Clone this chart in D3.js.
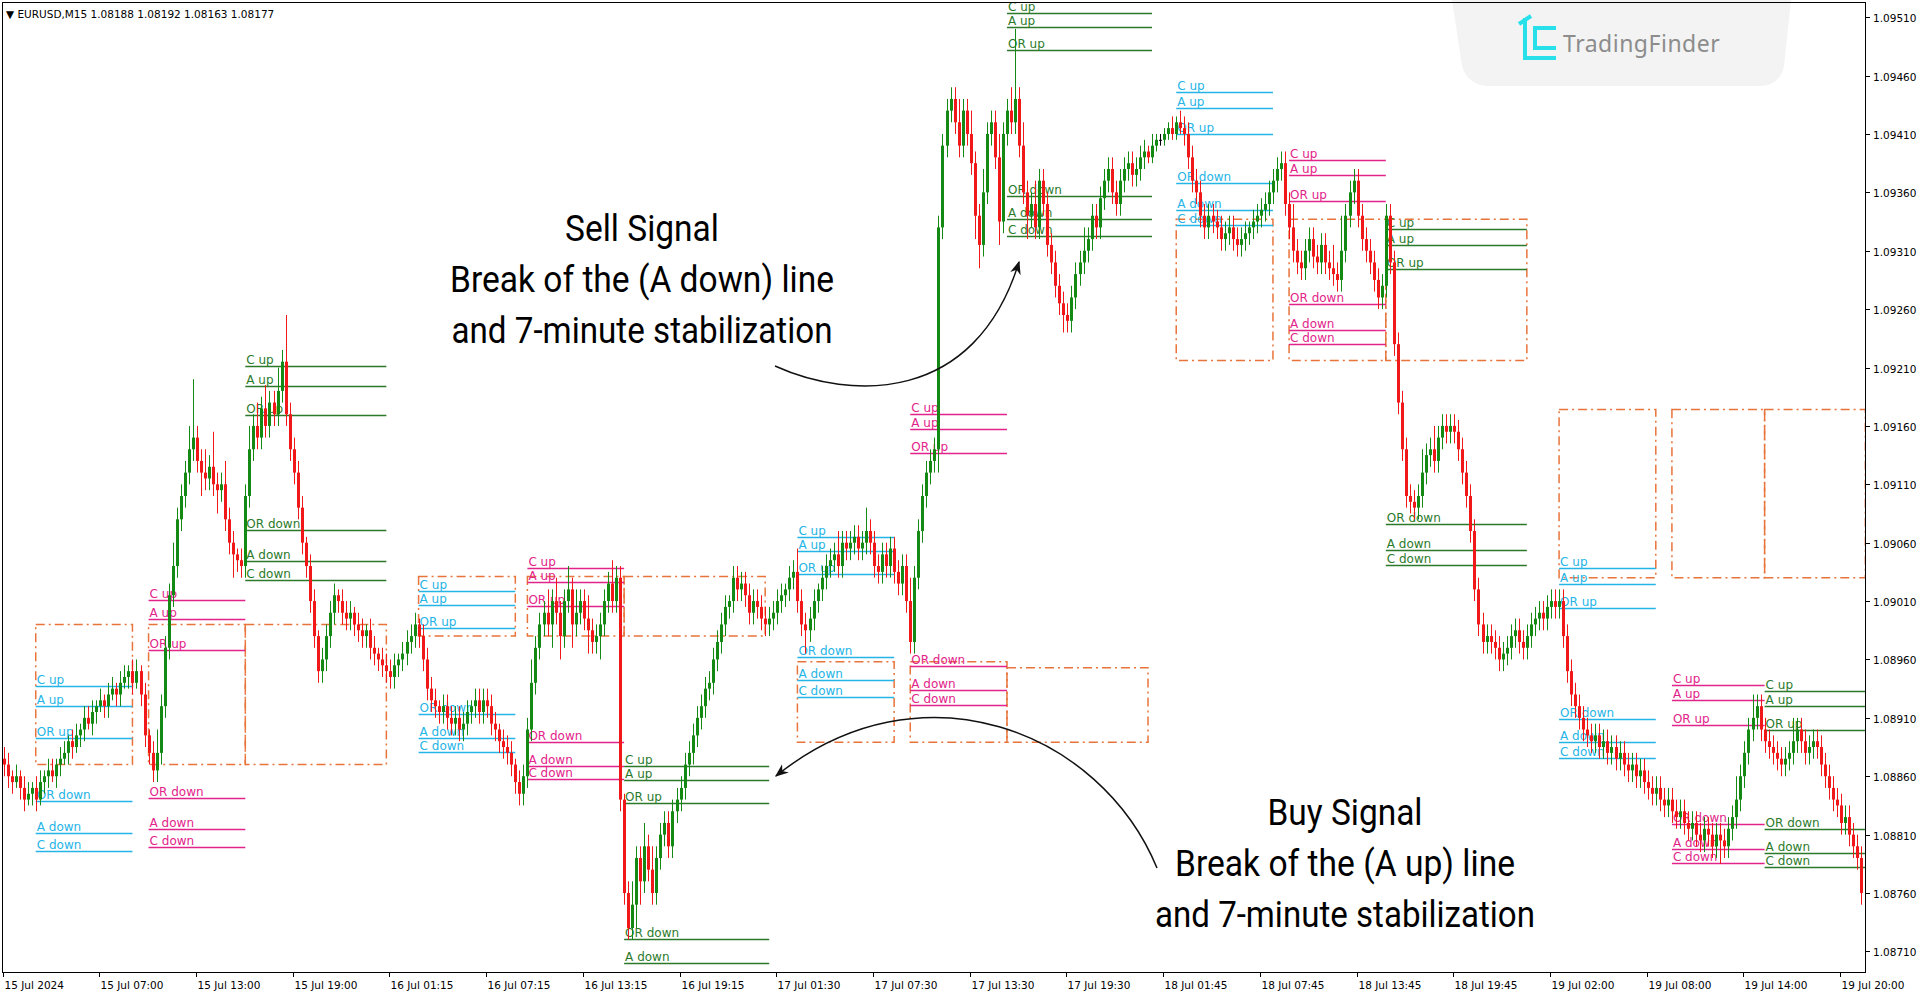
<!DOCTYPE html>
<html>
<head>
<meta charset="utf-8">
<title>EURUSD M15</title>
<style>
  body { margin: 0; background: #fff; }
  svg { display: block; }
  .lvl-text { font-family: "DejaVu Sans", Verdana, sans-serif; font-size: 12px; }
  .axis-text { font-family: "DejaVu Sans", Verdana, sans-serif; font-size: 10.5px; fill: #000; }
  .note { font-family: Roboto, "Noto Sans", sans-serif; font-size: 37px; fill: #000; text-anchor: middle; }
</style>
</head>
<body>
<svg id="chart" width="1920" height="997"></svg>
<script src="https://d3js.org/d3.v7.min.js"></script>
<script>
// closes in pips above 1.08000, one row per 24 bars (6 hours of M15)
var closePips = [
  87,86,85.5,86,85,84,84.5,85,84,85.5,86,86.5,86,87,87.5,88,89,88.5,89.5,90,91,90.5,91.5,92,
  92.5,92,93,93.5,93,94,94.5,95,94,95,93,89.5,88,86.5,88,92,97,101.5,104,108,110,112,114,115,
  113,112,111.5,112.5,111,110.5,111,108,106,105,104.5,104,110,114,116,115,117.5,116,118,117,119,121.5,117,114,
  112,109,106,104,101,98,95,96,98,100,101.5,101,100,99.5,100,99,98.5,98,98.5,97,96.5,96,95.5,95,
  94.5,95.5,96,96.5,97.5,98,99,98,96,93.5,92.5,92,91.5,92,91,90.5,91,90,90.5,91.5,92,92.5,91.5,92.5,
  92,90.5,90,89,88.5,88,87,85.5,84.5,86,90,94,97,99,100,99,101,100,98,101,102,99,100,101,
  99.5,98.5,97.5,98,99,101,102.5,101,103,84,76,73,75,79,77,80,78,76,79,81,82,80,83,84,
  85,87,88,89.5,91,92,93.5,94,96,97.5,99,100.5,101,103,102,102.5,101.5,100,101,100.5,99.5,99,99.5,100,
  101,101.5,102,103,103.5,101,99,98.5,99.5,101,102,103,104,104.5,105,104,106,105.5,106,106.5,105.5,106,107,106,
  104,103.5,105,104,105.5,103.5,102.5,104,101,97.5,103,107,110,112,113,114,133,140,143,144,142,140,143,141,
  138.5,134,131.5,136,141,142,139,133.5,141,143,142,144,140,136,134,135,133,137,135,131.5,130,128,126.5,125.5,
  125,127,129,130,131,132,134,133,135.5,137,138,136,135,137,138,138.5,137.5,138,139,139.5,139,140,140.5,140.5,
  141,141.5,141,142,141.5,141,139,137,136,134,133,134,133.5,133,132,132.5,133,132,131.5,132,132.5,133,133.5,134,
  134.5,135,136,137,138,138.5,135,133,131,130,129.5,131,132,130.5,130,131.5,130,129.5,129,128.5,131,134,136,137,
  134,132,131,130,128.5,127,128,134,130,123,118,114,110,109.5,109,110,112,113.5,114,113,115,116,115.5,116,
  115.5,114,112,110,107,102,99,97.5,98,97.5,97,96,96.5,97,98,98.5,97.5,97,98,99,99.5,100,99.5,100.5,
  101,100.5,101,98,95,93,92,91,90,89.5,89,89.5,88.5,89,88,88.5,87.5,88,87,86.5,87,86,86.5,85.5,
  85,84.5,85,84,83.5,84,83,82.5,83,82,81.5,82,81,80.5,81.5,81,80,81,80.5,80,81.5,82.5,84,86,
  88,90,91,92,90,89,88.5,88,87.5,87,87.5,88,89,90,89,88,88.5,89,88.5,87,86,85,84,83.5,
  82,82.5,81,80,79,76
];
var firstOpenPips = 87.5;

// wick lengths in pips beyond the body
var wickUp = [
  1,1,.5,1,.5,1,1,.5,1,1,.5,1,1,.5,1,1,.5,1,1,.5,1,1,1,.5,
  1,.5,1,1,.5,1,1,.5,1,1,.5,1,.5,1,2,1,1,1,2,1,1,1,2,5,
  1,1,2,1,3,1,1,2,1,1,.5,1,1,2,1,2,1,2,1,1,2,1,4,1,
  1,1,1,.5,1,1,.5,1,1,1,1,.5,1,1,1,.5,1,1,.5,1,1,.5,1,1,
  1,1,.5,1,1,1,1,.5,1,1,1,1,.5,1,1,1,1,1,1,1,.5,1,1,1,
  1,1,1,.5,1,1,1,.5,1,1,1,2,1,1,1,2,1,2,1,1,2,1,2,1,
  1,2,1,1,1,1,1,2,1,1,.5,1,2,1,1,2,1,2,1,1,1,1,1,1,
  1,1,1,1,1,1,1,1,1,1,1,1,.5,1,1,1,1,1,1,1,1,1,1,1,
  1,1,.5,1,1,2,1,1,1,1,.5,1,1,1,1,2,1,1,1,1,1,1,2,1,
  1,1,1,1,1,1,1,1,1,2,1,1,1,1,1,1,1,1,1,1,1,2,1,1,
  2,1,1,2,1,1,1,2,1,1,2,6,1,2,1,1,2,1,1,1,1,1,1,1,
  1,1,1,1,2,1,1,1,1,1,1,1,1,1,1,1,1,1,1,1,.5,1,.5,.5,
  .5,.5,1,.5,1,1,1,1,1,1,1,1,1,1,1,1,1,1,1,1,1,.5,1,1,
  1,1,1,1,1,1,1,1,2,1,1,1,1,1,1,1,1,1,2,1,3,1,1,1,
  1,1,1,1,1,1,1,1,1,1,1,1,1,1,1,1,2,1,1,2,1,1,1,1,
  1,1,1,1,1,1,1,1,1,1,1,1,1,1,1,1,1,1,1,1,1,1,1,1,
  1,1,1,1,1,1,1,1,1,1,1,1,1,1,1,1,1,1,1,1,1,1,1,1,
  1,1,1,1,1,1,1,1,1,1,1,1,1,1,1,1,1,1,1,1,1,1,2,1,
  1,1,2,1,1,1,1,1,1,1,1,1,2,1,1,1,1,1,1,1,1,1,1,1,
  1,1,1,1,1,1
];
var wickDn = [
  1,1,1,.5,1,1,.5,1,1,.5,1,1,.5,1,1,.5,1,1,.5,1,1,.5,1,1,
  .5,1,1,.5,1,1,.5,1,1,.5,1,1,1,1,1,1,1,1,1,1,1,1,1,1,
  1,2,1,1,1,2,1,1,1,2,1,1,1,1,1,1,1,1,1,1,1,1,1,1,
  1,1,1,1,1,1,1,1,1,1,1,1,1,1,1,1,1,1,1,1,1,1,1,1,
  1,1,1,1,1,1,1,1,1,1,1,1,1,1,1,1,1,1,1,1,1,1,1,1,
  1,1,1,1,1,1,1,1,1,1,1,1,1,1,1,1,2,1,2,1,1,2,1,1,
  1,2,1,1,2,1,1,1,1,1,1,1,1,2,2,1,1,1,1,1,1,1,1,1,
  1,1,1,1,1,1,1,1,1,1,1,1,1,1,1,1,1,1,1,1,1,1,1,1,
  1,1,1,1,1,1,1,2,1,1,1,1,1,1,1,1,1,1,1,1,1,1,1,1,
  1,1,1,1,1,1,1,1,1,1,1,1,1,1,1,1,2,1,1,1,1,1,1,1,
  1,2,2,1,1,1,1,2,1,1,1,1,1,1,2,1,1,1,1,1,1,1,1,1.5,
  1,1,1,1,1,1,1,1,1,1,1,1,1,1,1,1,1,1,1,1,.5,.5,.5,.5,
  .5,.5,.5,.5,.5,1,1,1,1,1,1,1,1,1,1,1,1,1,1,1,1,1,1,1,
  1,1,1,1,1,1,1,1,1,1,1,1,1,1,1,1,1,1,1,1,1,1,1,1,
  1,1,1,1,1,1,1,1,1,1,1,1,1,1,1,1,1,1,1,1,1,1,1,1,
  1,1,1,1,1,1,1,1,1,1,1,1,1,1,1,1,1,1,1,1,1,1,1,1,
  1,1,1,1,1,1,1,1,1,1,1,1,1,1,1,1,1,1,1,1,1,1,1,1,
  1,1,1,1,1,1,1,1,1,1,1,1,1,1,1,1,1,1,2,1,1,1,1,1,
  1,1,1,1,1,1,1,1,1,1,1,1,1,1,1,1,1,1,1,1,1,1,1,1,
  1,1,1,1,1,1
];

// opening range structures: [startBar, endBar, colour key, C up, A up, OR up, OR down, A down, C down]
var levelNames = ["C up", "A up", "OR up", "OR down", "A down", "C down"];
var structures = [
  [8, 32, "cyan", 93.7, 92.0, 89.3, 83.9, 81.1, 79.6],
  [36, 60, "magenta", 101.1, 99.5, 96.8, 84.1, 81.5, 79.9],
  [60, 95, "green", 121.1, 119.4, 116.9, 107.1, 104.4, 102.8],
  [103, 127, "cyan", 101.9, 100.7, 98.7, 91.3, 89.3, 88.1],
  [130, 154, "magenta", 103.8, 102.6, 100.6, 88.9, 86.9, 85.8],
  [154, 190, "green", 86.9, 85.7, 83.7, 72.1, 70.0, 68.2],
  [197, 221, "cyan", 106.5, 105.3, 103.3, 96.2, 94.2, 92.8],
  [225, 249, "magenta", 117.0, 115.7, 113.7, 95.4, 93.4, 92.1],
  [249, 285, "green", 151.4, 150.2, 148.2, 135.7, 133.7, 132.3],
  [291, 315, "cyan", 144.6, 143.2, 141.0, 136.8, 134.5, 133.2],
  [319, 343, "magenta", 138.8, 137.5, 135.3, 126.4, 124.2, 123.0],
  [343, 378, "green", 132.9, 131.5, 129.4, 107.6, 105.4, 104.1],
  [386, 410, "cyan", 103.8, 102.5, 100.4, 90.9, 88.9, 87.6],
  [414, 437, "magenta", 93.8, 92.5, 90.4, 81.9, 79.8, 78.6],
  [437, 462, "green", 93.3, 92.0, 90.0, 81.5, 79.4, 78.2]
];
// dash-dot boxes: [startBar, endBar, top pips, bottom pips]
var boxes = [
  [8, 32, 99, 87], [36, 60, 99, 87], [60, 95, 99, 87],
  [103, 127, 103.1, 98], [130, 154, 103.1, 98], [154, 189, 103.1, 98],
  [197, 221, 95.8, 88.9], [225, 249, 95.8, 88.9], [249, 284, 95.3, 88.9],
  [291, 315, 133.7, 121.6], [319, 343, 133.7, 121.6], [343, 378, 133.7, 121.6],
  [386, 410, 117.4, 103], [414, 437, 117.4, 103], [437, 462, 117.4, 103]
];

var priceTicks = ["1.09510","1.09460","1.09410","1.09360","1.09310","1.09260","1.09210","1.09160",
  "1.09110","1.09060","1.09010","1.08960","1.08910","1.08860","1.08810","1.08760","1.08710"];
var dateLabels = ["15 Jul 2024","15 Jul 07:00","15 Jul 13:00","15 Jul 19:00","16 Jul 01:15","16 Jul 07:15",
  "16 Jul 13:15","16 Jul 19:15","17 Jul 01:30","17 Jul 07:30","17 Jul 13:30","17 Jul 19:30","18 Jul 01:45",
  "18 Jul 07:45","18 Jul 13:45","18 Jul 19:45","19 Jul 02:00","19 Jul 08:00","19 Jul 14:00","19 Jul 20:00"];
var barsPerLabel = 24;

var colours = { cyan: "#25b4e6", magenta: "#e2238a", green: "#2b7a2b" };
var plot = { left: 2, right: 1865, top: 2, bottom: 972 };

var svg = d3.select("#chart");
var x = d3.scaleLinear().domain([0, 1]).range([3.5, 7.53]);
var y = d3.scaleLinear().domain([1.08710, 1.09510]).range([951.4, 17.2]);
function P(p) { return 1.08 + p / 10000; }

// candles
var candles = closePips.map(function(c, i) {
  var o = i === 0 ? firstOpenPips : closePips[i - 1];
  return { i: i, o: P(o), c: P(c), h: P(Math.max(o, c) + wickUp[i]), l: P(Math.min(o, c) - wickDn[i]) };
});

svg.append("clipPath").attr("id", "clip").append("rect")
  .attr("x", plot.left).attr("y", plot.top)
  .attr("width", plot.right - plot.left).attr("height", plot.bottom - plot.top);

// logo background
svg.append("path")
  .attr("d", "M1452,0 L1791,0 L1784,66 Q1780,86 1758,86 L1490,86 Q1468,86 1462,66 Z")
  .attr("fill", "#f3f3f3");
var logo = svg.append("g").attr("fill", "none").attr("stroke", "#27e0ea").attr("stroke-width", 4);
logo.append("path").attr("d", "M1525,18 L1525,58 L1556,58");
logo.append("path").attr("d", "M1556,28 L1535,28 L1535,48 L1556,48");
logo.append("path").attr("d", "M1519,24 L1531,16");
svg.append("text").attr("x", 1563).attr("y", 52)
  .attr("font-family", "Noto Sans, sans-serif").attr("font-size", 23).attr("fill", "#8c8c8c")
  .attr("letter-spacing", 0.5).text("TradingFinder");

var g = svg.append("g").attr("clip-path", "url(#clip)");

// boxes
g.append("g").selectAll("rect").data(boxes).enter().append("rect")
  .attr("x", function(d) { return x(d[0]); })
  .attr("y", function(d) { return y(P(d[2])); })
  .attr("width", function(d) { return x(d[1]) - x(d[0]); })
  .attr("height", function(d) { return y(P(d[3])) - y(P(d[2])); })
  .attr("fill", "none").attr("stroke", "#e8743b").attr("stroke-width", 1.5)
  .attr("stroke-dasharray", "9,4,2,4");

// level lines and labels
structures.forEach(function(s) {
  var col = colours[s[2]];
  var sg = g.append("g");
  levelNames.forEach(function(name, k) {
    var yy = Math.round(y(P(s[3 + k]))) + 0.5;
    sg.append("line").attr("x1", x(s[0])).attr("x2", x(s[1]))
      .attr("y1", yy).attr("y2", yy).attr("stroke", col).attr("stroke-width", 1.5);
    sg.append("text").attr("class", "lvl-text").attr("x", x(s[0]) + 1).attr("y", yy - 3)
      .attr("fill", col).text(name);
  });
});

// wicks and bodies
var cg = g.append("g");
cg.selectAll("line.wick").data(candles).enter().append("line")
  .attr("class", "wick")
  .attr("x1", function(d) { return Math.round(x(d.i)) + 0.5; })
  .attr("x2", function(d) { return Math.round(x(d.i)) + 0.5; })
  .attr("y1", function(d) { return y(d.h); })
  .attr("y2", function(d) { return y(d.l); })
  .attr("stroke", function(d) { return d.c > d.o ? "#148a14" : d.c < d.o ? "#f01818" : "#000"; })
  .attr("stroke-width", 1);
cg.selectAll("rect.body").data(candles).enter().append("rect")
  .attr("class", "body")
  .attr("x", function(d) { return Math.round(x(d.i)) - 1; })
  .attr("width", 3)
  .attr("y", function(d) { return y(Math.max(d.o, d.c)); })
  .attr("height", function(d) { return Math.max(1, Math.abs(y(d.o) - y(d.c))); })
  .attr("fill", function(d) { return d.c > d.o ? "#148a14" : d.c < d.o ? "#f01818" : "#000"; });

// annotations
var sell = ["Sell Signal", "Break of the (A down) line", "and 7-minute stabilization"];
var sellW = [154, 384, 381], sellY = [241, 292, 343];
var buy = ["Buy Signal", "Break of the (A up) line", "and 7-minute stabilization"];
var buyW = [155, 340, 380], buyY = [825, 876, 927];
sell.forEach(function(t, k) {
  svg.append("text").attr("class", "note").attr("x", 642).attr("y", sellY[k])
    .attr("textLength", sellW[k]).attr("lengthAdjust", "spacingAndGlyphs").text(t);
});
buy.forEach(function(t, k) {
  svg.append("text").attr("class", "note").attr("x", 1345).attr("y", buyY[k])
    .attr("textLength", buyW[k]).attr("lengthAdjust", "spacingAndGlyphs").text(t);
});
var defs = svg.append("defs");
defs.append("marker").attr("id", "arr").attr("viewBox", "0 0 10 10").attr("refX", 9).attr("refY", 5)
  .attr("markerWidth", 9).attr("markerHeight", 9).attr("orient", "auto")
  .append("path").attr("d", "M0,1 L10,5 L0,9 L3,5 Z").attr("fill", "#111");
svg.append("path").attr("d", "M775,366 C850,400 975,405 1019,262")
  .attr("fill", "none").attr("stroke", "#111").attr("stroke-width", 1.5).attr("marker-end", "url(#arr)");
svg.append("path").attr("d", "M1157,868 C1100,730 920,660 776,776")
  .attr("fill", "none").attr("stroke", "#111").attr("stroke-width", 1.5).attr("marker-end", "url(#arr)");

// frame
svg.append("rect").attr("x", plot.left + 0.5).attr("y", plot.top + 0.5)
  .attr("width", plot.right - plot.left).attr("height", plot.bottom - plot.top)
  .attr("fill", "none").attr("stroke", "#000").attr("stroke-width", 1);

// price axis
var pa = svg.append("g");
priceTicks.forEach(function(t) {
  var yy = Math.round(y(+t)) + 0.5;
  pa.append("line").attr("x1", plot.right).attr("x2", plot.right + 5).attr("y1", yy).attr("y2", yy).attr("stroke", "#000");
  pa.append("text").attr("class", "axis-text").attr("x", plot.right + 8).attr("y", yy + 4).text(t);
});
// time axis
var ta = svg.append("g");
dateLabels.forEach(function(t, k) {
  var xx = Math.round(x(k * barsPerLabel)) - 0.5;
  ta.append("line").attr("x1", xx).attr("x2", xx).attr("y1", plot.bottom).attr("y2", plot.bottom + 5).attr("stroke", "#000");
  ta.append("text").attr("class", "axis-text").attr("x", xx + 1).attr("y", plot.bottom + 17).text(t);
});

// title
svg.append("text").attr("class", "axis-text").attr("x", 6).attr("y", 18)
  .text("\u25BC EURUSD,M15  1.08188 1.08192 1.08163 1.08177");
</script>
</body>
</html>
